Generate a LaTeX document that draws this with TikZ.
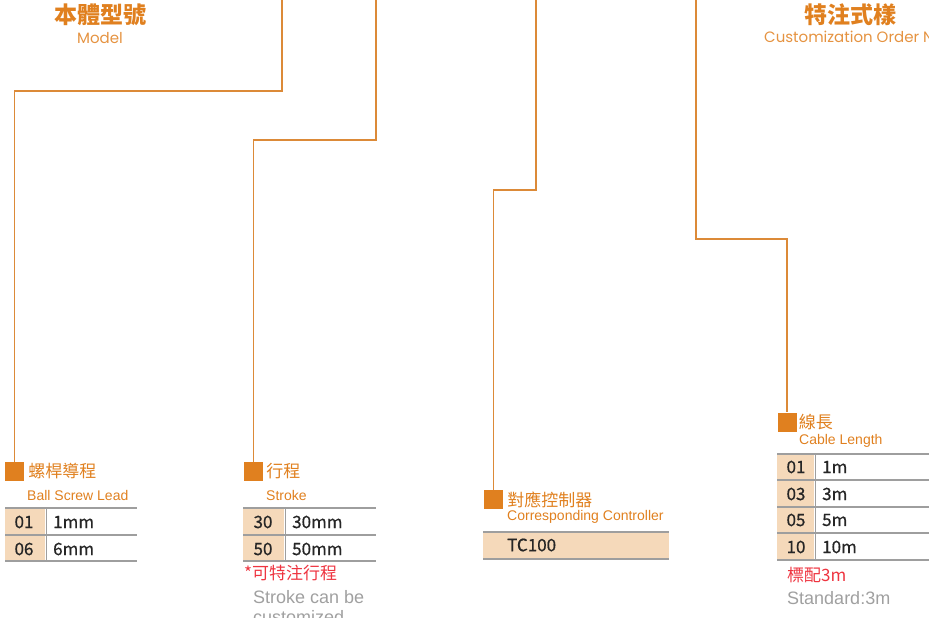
\documentclass[tikz,border=0pt]{standalone}
\usepackage{fontspec}
\setmainfont{Liberation Sans}
\newfontfamily\cjk{Noto Sans CJK TC}
\newfontfamily\cjkmed[FakeBold=0.7]{Noto Sans CJK TC}
\newfontfamily\geo{Poppins}
\usetikzlibrary{positioning}
\definecolor{org}{HTML}{E0801F}
\definecolor{orgline}{HTML}{DC8A38}
\definecolor{peach}{HTML}{F5D9BA}
\definecolor{rulegray}{HTML}{9E9E9E}
\definecolor{alert}{HTML}{EE3440}
\definecolor{note}{HTML}{A0A0A0}

\begin{document}
\begin{tikzpicture}[x=1pt, y=-1pt,
  lead/.style = {draw=orgline, line width=1.2pt},
  sq/.style = {fill=org, minimum size=19pt, inner sep=0pt},
  cn/.style = {text=org, font=\cjk\fontsize{17}{17}\selectfont, inner sep=0pt, anchor=west},
  en/.style = {text=org, font=\fontsize{14}{14}\selectfont, inner sep=0pt, anchor=west},
  ttl/.style = {text=org, font=\cjk\bfseries\fontsize{23}{23}\selectfont, inner sep=0pt},
  sub/.style = {text=org!85, font=\geo\fontsize{15}{15}\selectfont, inner sep=0pt},
  key/.style = {font=\cjkmed\fontsize{17}{17}\selectfont, text=black!85, inner sep=0pt},
  val/.style = {key, anchor=west},
  rul/.style = {draw=rulegray, line width=1.3pt},
  sep/.style = {draw=rulegray, line width=1pt},
  red/.style = {text=alert, font=\cjk\fontsize{17}{17}\selectfont, inner sep=0pt, anchor=west},
  gry/.style = {text=note, font=\fontsize{18}{18}\selectfont, inner sep=0pt, anchor=west}]
\useasboundingbox (0,0) rectangle (929,618);

% headings
\node[ttl] (h1) at (100,15) {本體型號};
\node[sub] (m1) at (100,38) {Model};
\node[ttl] (h2) at (850,15) {特注式樣};
\node[sub, anchor=west] (m2) at (764,37) {Customization Order No};

% boxes and labels
\node[sq] (b1) at (14.5,471.5) {};
\node[cn, right=4pt of b1] (l1) {螺桿導程};
\node[en] (e1) at (27,495) {Ball Screw Lead};

\node[sq] (b2) at (253.5,471.5) {};
\node[cn, right=3pt of b2] (l2) {行程};
\node[en] (e2) at (266,495) {Stroke};

\node[sq] (b3) at (493.5,499.5) {};
\node[cn, right=4pt of b3] (l3) {對應控制器};
\node[en] (e3) at (507,517) {Corresponding Controller};

\node[sq] (b4) at (787,422) {};
\node[cn, right=2pt of b4] (l4) {線長};
\node[en] (e4) at (799,441) {Cable Length};

% leads
\coordinate (c1) at (282,-1);
\coordinate (c2) at (376,-1);
\coordinate (c3) at (536,-1);
\coordinate (c4) at (696,-1);
\draw[lead] (c1) -- ++(0,92) -| (b1);
\draw[lead] (c2) -- ++(0,141) -| (b2);
\draw[lead] (c3) -- ++(0,191) -| (b3);
\draw[lead] (c4) -- ++(0,240) -| (b4);

% lead table
\fill[peach] (5,508) rectangle (45,561);
\draw[sep] (46,508) -- (46,561);
\draw[rul] (5,508) -- (137,508) (5,535) -- (137,535) (5,561) -- (137,561);
\node[key] (k11) at (24,522) {01};
\node[val] (v11) at (53,522) {1mm};
\node[key] (k12) at (24,549) {06};
\node[val] (v12) at (53,549) {6mm};

% stroke table
\fill[peach] (243,508) rectangle (284,561);
\draw[sep] (285,508) -- (285,561);
\draw[rul] (243,508) -- (376,508) (243,535) -- (376,535) (243,561) -- (376,561);
\node[key] (k21) at (263,522) {30};
\node[val] (v21) at (292,522) {30mm};
\node[key] (k22) at (263,549) {50};
\node[val] (v22) at (292,549) {50mm};
\node[red] (r2) at (244,573) {*可特注行程};
\node[gry] (g2) at (253,597) {Stroke can be};
\node[gry] (g3) at (253,617) {customized};

% controller table
\fill[peach] (483,532) rectangle (669,559);
\draw[rul] (483,532) -- (669,532) (483,559) -- (669,559);
\node[val] (v31) at (507,545) {TC100};

% cable table
\fill[peach] (777,454) rectangle (814,560);
\draw[sep] (815,454) -- (815,560);
\draw[rul] (777,454) -- (929,454) (777,480) -- (929,480) (777,507) -- (929,507)
  (777,533) -- (929,533) (777,560) -- (929,560);
\node[key] (k41) at (796,467) {01};
\node[val] (v41) at (822,467) {1m};
\node[key] (k42) at (796,494) {03};
\node[val] (v42) at (822,494) {3m};
\node[key] (k43) at (796,520) {05};
\node[val] (v43) at (822,520) {5m};
\node[key] (k44) at (796,547) {10};
\node[val] (v44) at (822,547) {10m};
\node[red] (r4) at (787,575) {標配3m};
\node[gry] (g4) at (787,598) {Standard:3m};
\end{tikzpicture}
\end{document}
